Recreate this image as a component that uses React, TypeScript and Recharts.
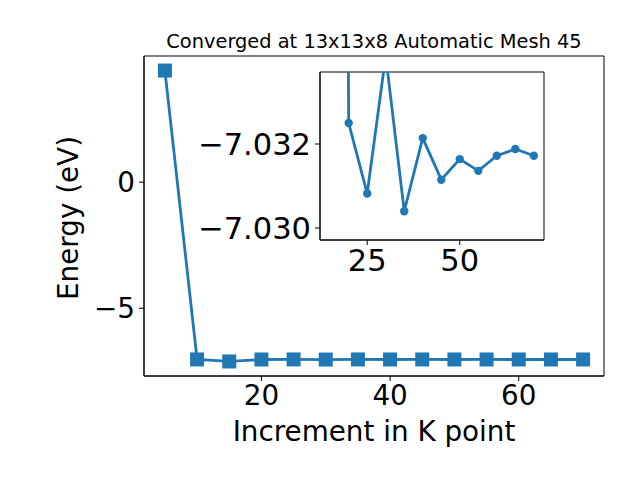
import React from 'react';
import { LineChart, Line, XAxis, YAxis, ReferenceArea, Label } from 'recharts';

// k-point increments and total energies (eV)
const kPoints = [5, 10, 15, 20, 25, 30, 35, 40, 45, 50, 55, 60, 65, 70];
const energies = [
  4.43, -7.03, -7.11, -7.0325, -7.03082, -7.0341, -7.0304,
  -7.03214, -7.03115, -7.03164, -7.03136, -7.03172, -7.03188, -7.03172
];

const mainXTicks = [20, 40, 60];
const mainYTicks = [-5, 0];
const insetXTicks = [25, 50];
const insetYTicks = [-7.032, -7.03];
const insetStart = 15;

const BLUE = '#1f77b4';
const FONT = 'DejaVu Sans';

const mainData = kPoints.map((k, i) => ({ k, energy: energies[i] }));
const insetData = mainData.filter(d => d.k >= insetStart);

const mainXDomain = [1.75, 73.25];
const mainYDomain = [-7.687, 5.007];
const insetXDomain = [12.25, 72.75];
const insetYDomain = [-7.033714, -7.029714];

const minus = (s: string) => s.replace('-', '\u2212');

const SquareDot = (props: any) => {
  const { cx, cy, index } = props;
  if (cx == null || cy == null) return <g key={`sq-${index}`} />;
  return <rect key={`sq-${index}`} x={cx - 7} y={cy - 7} width={14} height={14} fill={BLUE} />;
};

const renderXLabel = (props: any) => {
  const { x, y, width } = props.viewBox;
  return (
    <text x={x + width / 2} y={y + 65} textAnchor="middle" fontSize={27.8} fontFamily={FONT} fill="#000">
      Increment in K point
    </text>
  );
};

const renderYLabel = (props: any) => {
  const { x, y, height } = props.viewBox;
  const lx = x + 34;
  const ly = y + height / 2 + 2;
  return (
    <text x={lx} y={ly} transform={`rotate(-90, ${lx}, ${ly})`} textAnchor="middle" fontSize={27.8} fontFamily={FONT} fill="#000">
      Energy (eV)
    </text>
  );
};

const mainTick = { fill: '#000', fontSize: 27.8, fontFamily: FONT };
const insetTick = { fill: '#000', fontSize: 30.5, fontFamily: FONT };

export default function App() {
  return (
    <div style={{ position: 'absolute', left: 0, top: 0, width: 640, height: 480, background: '#fff' }}>
      <LineChart width={640} height={480} data={mainData} margin={{ top: 56, right: 36, bottom: 59, left: 44 }}>
        <XAxis
          dataKey="k"
          type="number"
          domain={mainXDomain}
          allowDataOverflow
          ticks={mainXTicks}
          interval={0}
          height={45}
          tickSize={5}
          tickMargin={4}
          stroke="#000"
          tick={mainTick}
        >
          <Label content={renderXLabel} />
        </XAxis>
        <YAxis
          type="number"
          domain={mainYDomain}
          allowDataOverflow
          ticks={mainYTicks}
          interval={0}
          width={100}
          tickSize={5}
          tickMargin={4}
          stroke="#000"
          tick={mainTick}
          tickFormatter={(v: number) => minus(String(v))}
        >
          <Label content={renderYLabel} />
        </YAxis>
        <ReferenceArea
          x1={mainXDomain[0]}
          x2={mainXDomain[1]}
          y1={mainYDomain[0]}
          y2={mainYDomain[1]}
          ifOverflow="visible"
          fill="none"
          stroke="#000"
          strokeWidth={1}
          label={{
            value: 'Converged at 13x13x8 Automatic Mesh 45',
            position: 'top',
            offset: 8,
            fontSize: 19.4,
            fontFamily: FONT,
            fill: '#000'
          }}
        />
        <Line
          type="linear"
          dataKey="energy"
          stroke={BLUE}
          strokeWidth={2.8}
          dot={SquareDot}
          activeDot={false}
          isAnimationActive={false}
        />
      </LineChart>

      <div style={{ position: 'absolute', left: 0, top: 0 }}>
        <LineChart width={640} height={480} data={insetData} margin={{ top: 72, right: 96, bottom: 200, left: 200 }}>
          <XAxis
            dataKey="k"
            type="number"
            domain={insetXDomain}
            allowDataOverflow
            ticks={insetXTicks}
            interval={0}
            height={40}
            tickSize={5}
            tickMargin={4}
            stroke="#000"
            tick={insetTick}
          />
          <YAxis
            type="number"
            domain={insetYDomain}
            reversed
            allowDataOverflow
            ticks={insetYTicks}
            interval={0}
            width={120}
            tickSize={5}
            tickMargin={4}
            stroke="#000"
            tick={insetTick}
            tickFormatter={(v: number) => minus(v.toFixed(3))}
          />
          <ReferenceArea
            x1={insetXDomain[0]}
            x2={insetXDomain[1]}
            y1={insetYDomain[0]}
            y2={insetYDomain[1]}
            ifOverflow="visible"
            fill="#fff"
            fillOpacity={1}
            stroke="#000"
            strokeWidth={1}
          />
          <Line
            type="linear"
            dataKey="energy"
            stroke={BLUE}
            strokeWidth={2.8}
            dot={{ r: 4.2, fill: BLUE, stroke: BLUE, strokeWidth: 0 }}
            activeDot={false}
            isAnimationActive={false}
          />
        </LineChart>
      </div>
    </div>
  );
}
